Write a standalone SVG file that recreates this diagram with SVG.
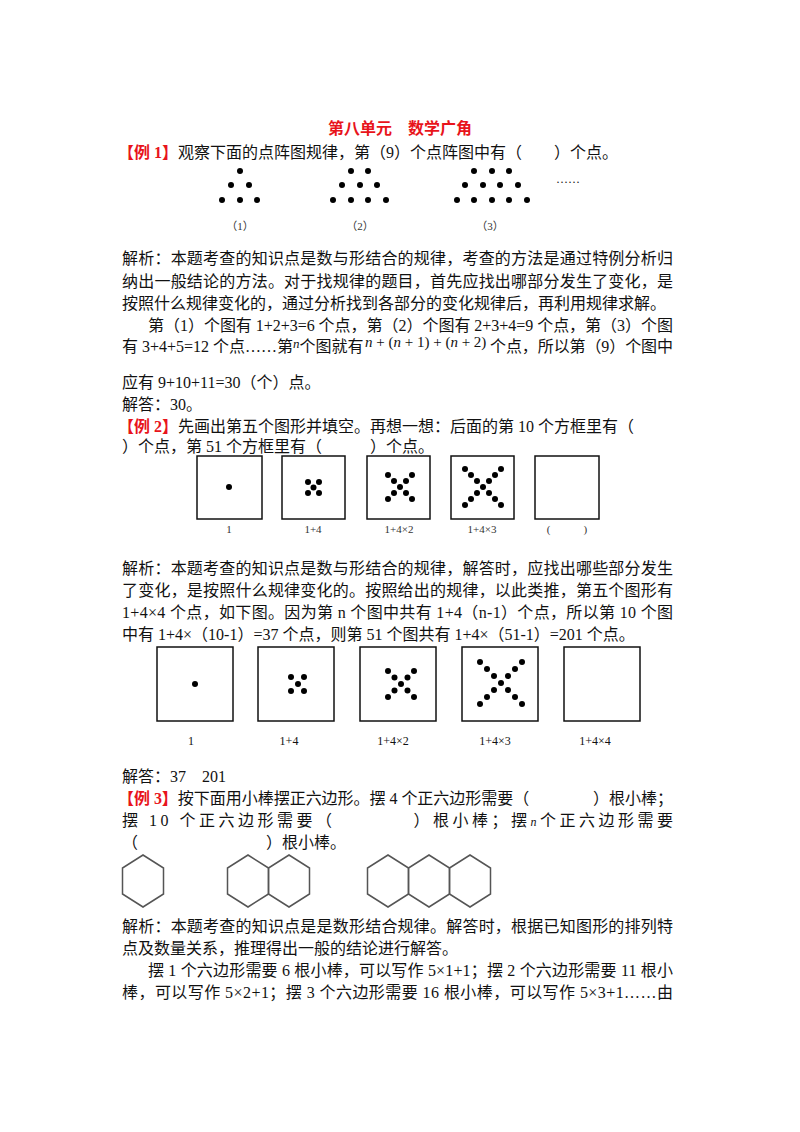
<svg xmlns="http://www.w3.org/2000/svg" width="800" height="1132" viewBox="0 0 800 1132">
<style>
text{font-family:"Liberation Serif","Noto Sans CJK SC",serif;font-size:16px;fill:#111}
.red{fill:#e8141b;font-weight:bold}
.lbl{font-size:11px;fill:#333}
.lbl2{font-size:12px;fill:#111}
.it{font-style:italic}
.box{fill:#fff;stroke:#111;stroke-width:1.5}
.hex{fill:none;stroke:#555;stroke-width:1.5}
</style>
<defs>
<circle id="d" r="3" fill="#000"/>
<polygon id="h" points="0,0 20.5,13 20.5,39 0,52 -20.5,39 -20.5,13" class="hex"/>
</defs>
<rect width="800" height="1132" fill="#fff"/>
<text x="400" y="134" text-anchor="middle" class="red">第八单元　数学广角</text>
<text x="118" y="158"><tspan class="red">【例 1】</tspan>观察下面的点阵图规律，第（9）个点阵图中有（　　）个点。</text>
<g id="tri">
<use href="#d" x="240" y="171"/><use href="#d" x="231" y="185"/><use href="#d" x="249" y="185"/><use href="#d" x="222" y="200"/><use href="#d" x="240" y="200"/><use href="#d" x="257" y="200"/>
<use href="#d" x="351" y="171"/><use href="#d" x="368" y="171"/><use href="#d" x="342" y="185"/><use href="#d" x="360" y="185"/><use href="#d" x="377" y="185"/><use href="#d" x="333" y="200"/><use href="#d" x="351" y="200"/><use href="#d" x="368" y="200"/><use href="#d" x="386" y="200"/>
<use href="#d" x="474" y="171"/><use href="#d" x="492" y="171"/><use href="#d" x="509" y="171"/><use href="#d" x="465" y="185"/><use href="#d" x="483" y="185"/><use href="#d" x="500" y="185"/><use href="#d" x="518" y="185"/><use href="#d" x="457" y="200"/><use href="#d" x="474" y="200"/><use href="#d" x="492" y="200"/><use href="#d" x="509" y="200"/><use href="#d" x="527" y="200"/>
<text x="556" y="186" style="font-size:12px">······</text>
<text x="240" y="230" text-anchor="middle" class="lbl">（1）</text>
<text x="360" y="230" text-anchor="middle" class="lbl">（2）</text>
<text x="490" y="230" text-anchor="middle" class="lbl">（3）</text>
</g>
<text x="122" y="264" textLength="551" lengthAdjust="spacing">解析：本题考查的知识点是数与形结合的规律，考查的方法是通过特例分析归</text>
<text x="122" y="287" textLength="551" lengthAdjust="spacing">纳出一般结论的方法。对于找规律的题目，首先应找出哪部分发生了变化，是</text>
<text x="122" y="309">按照什么规律变化的，通过分析找到各部分的变化规律后，再利用规律求解。</text>
<text x="148" y="331" textLength="525" lengthAdjust="spacing">第（1）个图有 1+2+3=6 个点，第（2）个图有 2+3+4=9 个点，第（3）个图</text>
<text x="122" y="352">有 3+4+5=12 个点……第<tspan class="it" style="font-size:13px" dy="-4">n</tspan><tspan dy="4">个图就有</tspan></text>
<text x="365" y="347" class="it" style="font-size:15px">n<tspan font-style="normal"> + (</tspan>n<tspan font-style="normal"> + 1) + (</tspan>n<tspan font-style="normal"> + 2)</tspan></text>
<text x="490" y="352" textLength="183" lengthAdjust="spacing">个点，所以第（9）个图中</text>
<text x="122" y="388">应有 9+10+11=30（个）点。</text>
<text x="122" y="410">解答：30。</text>
<text x="118" y="432"><tspan class="red">【例 2】</tspan>先画出第五个图形并填空。再想一想：后面的第 10 个方框里有（</text>
<text x="122" y="452">）个点，第 51 个方框里有（　　　）个点。</text>
<g id="row1">
<rect class="box" x="197" y="456" width="65" height="63"/>
<rect class="box" x="282" y="456" width="63" height="63"/>
<rect class="box" x="367" y="456" width="63" height="63"/>
<rect class="box" x="451" y="456" width="63" height="63"/>
<rect class="box" x="535" y="456" width="64" height="63"/>
<use href="#d" x="229" y="487"/>
<use href="#d" x="308" y="482"/><use href="#d" x="319" y="482"/><use href="#d" x="313.5" y="487.5"/><use href="#d" x="308" y="493"/><use href="#d" x="319" y="493"/>
<use href="#d" x="388" y="475"/><use href="#d" x="394" y="481"/><use href="#d" x="400" y="487"/><use href="#d" x="406" y="493"/><use href="#d" x="412" y="499"/><use href="#d" x="412" y="475"/><use href="#d" x="406" y="481"/><use href="#d" x="394" y="493"/><use href="#d" x="388" y="499"/>
<use href="#d" x="465" y="469"/><use href="#d" x="471" y="475"/><use href="#d" x="477" y="481"/><use href="#d" x="483" y="487"/><use href="#d" x="489" y="493"/><use href="#d" x="495" y="499"/><use href="#d" x="501" y="505"/><use href="#d" x="501" y="469"/><use href="#d" x="495" y="475"/><use href="#d" x="489" y="481"/><use href="#d" x="477" y="493"/><use href="#d" x="471" y="499"/><use href="#d" x="465" y="505"/>
<text x="229" y="533" text-anchor="middle" class="lbl">1</text>
<text x="313" y="533" text-anchor="middle" class="lbl">1+4</text>
<text x="399" y="533" text-anchor="middle" class="lbl">1+4×2</text>
<text x="482" y="533" text-anchor="middle" class="lbl">1+4×3</text>
<text x="567" y="533" text-anchor="middle" class="lbl">(　　　)</text>
</g>
<text x="122" y="574" textLength="551" lengthAdjust="spacing">解析：本题考查的知识点是数与形结合的规律，解答时，应找出哪些部分发生</text>
<text x="122" y="596" textLength="551" lengthAdjust="spacing">了变化，是按照什么规律变化的。按照给出的规律，以此类推，第五个图形有</text>
<text x="122" y="618" textLength="551" lengthAdjust="spacing">1+4×4 个点，如下图。因为第 n 个图中共有 1+4（n-1）个点，所以第 10 个图</text>
<text x="122" y="640">中有 1+4×（10-1）=37 个点，则第 51 个图共有 1+4×（51-1）=201 个点。</text>
<g id="row2">
<rect class="box" x="157" y="647" width="76" height="74"/>
<rect class="box" x="258" y="647" width="76" height="74"/>
<rect class="box" x="360" y="647" width="76" height="74"/>
<rect class="box" x="462" y="647" width="76" height="74"/>
<rect class="box" x="564" y="647" width="76" height="74"/>
<use href="#d" x="195" y="684"/>
<use href="#d" x="291" y="677"/><use href="#d" x="304" y="677"/><use href="#d" x="298" y="684"/><use href="#d" x="291" y="691"/><use href="#d" x="304" y="691"/>
<use href="#d" x="388" y="671"/><use href="#d" x="394.5" y="677.5"/><use href="#d" x="401" y="684"/><use href="#d" x="407.5" y="690.5"/><use href="#d" x="414" y="697"/><use href="#d" x="414" y="671"/><use href="#d" x="407.5" y="677.5"/><use href="#d" x="394.5" y="690.5"/><use href="#d" x="388" y="697"/>
<use href="#d" x="480" y="662"/><use href="#d" x="487" y="669"/><use href="#d" x="494" y="676"/><use href="#d" x="501" y="683"/><use href="#d" x="508" y="690"/><use href="#d" x="515" y="697"/><use href="#d" x="522" y="704"/><use href="#d" x="522" y="662"/><use href="#d" x="515" y="669"/><use href="#d" x="508" y="676"/><use href="#d" x="494" y="690"/><use href="#d" x="487" y="697"/><use href="#d" x="480" y="704"/>
<text x="191" y="745" text-anchor="middle" class="lbl2">1</text>
<text x="289" y="745" text-anchor="middle" class="lbl2">1+4</text>
<text x="393" y="745" text-anchor="middle" class="lbl2">1+4×2</text>
<text x="495" y="745" text-anchor="middle" class="lbl2">1+4×3</text>
<text x="595" y="745" text-anchor="middle" class="lbl2">1+4×4</text>
</g>
<text x="122" y="782">解答：37　201</text>
<text x="118" y="804" textLength="555" lengthAdjust="spacing"><tspan class="red">【例 3】</tspan>按下面用小棒摆正六边形。摆 4 个正六边形需要（　　　　）根小棒；</text>
<text x="122" y="826" textLength="551" lengthAdjust="spacing">摆 10 个正六边形需要（　　　　）根小棒；摆<tspan class="it" style="font-size:12px">n</tspan>个正六边形需要</text>
<text x="122" y="848">（　　　　　　　　）根小棒。</text>
<g id="hexes">
<use href="#h" x="143" y="855"/>
<use href="#h" x="248" y="855"/><use href="#h" x="289" y="855"/>
<use href="#h" x="388" y="855"/><use href="#h" x="429" y="855"/><use href="#h" x="470" y="855"/>
</g>
<text x="122" y="932" textLength="551" lengthAdjust="spacing">解析：本题考查的知识点是是数形结合规律。解答时，根据已知图形的排列特</text>
<text x="122" y="954">点及数量关系，推理得出一般的结论进行解答。</text>
<text x="148" y="976" textLength="525" lengthAdjust="spacing">摆 1 个六边形需要 6 根小棒，可以写作 5×1+1；摆 2 个六边形需要 11 根小</text>
<text x="122" y="998" textLength="551" lengthAdjust="spacing">棒，可以写作 5×2+1；摆 3 个六边形需要 16 根小棒，可以写作 5×3+1……由</text>
</svg>
